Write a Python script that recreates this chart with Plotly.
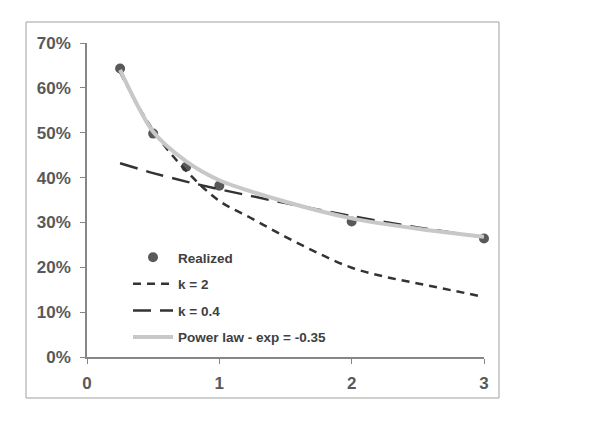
import plotly.graph_objects as go

# Data
x_realized = [0.25, 0.5, 0.75, 1, 2, 3]
y_realized = [0.643, 0.498, 0.424, 0.382, 0.302, 0.264]

x_k2 = [0.25, 0.5, 0.75, 1, 1.25, 1.5, 1.75, 2, 2.25, 2.5, 2.75, 3]
y_k2 = [0.635, 0.505, 0.415, 0.348, 0.308, 0.268, 0.231, 0.199, 0.179, 0.164, 0.149, 0.134]

x_k04 = [0.25, 0.5, 0.75, 1, 1.5, 2, 2.5, 3]
y_k04 = [0.432, 0.410, 0.391, 0.374, 0.343, 0.314, 0.289, 0.267]

x_pow = [0.25, 0.5, 0.75, 1, 1.5, 2, 2.5, 3]
y_pow = [0.640, 0.502, 0.436, 0.394, 0.346, 0.309, 0.286, 0.268]

x_ticks = [0, 1, 2, 3]
y_ticks = [0, 0.1, 0.2, 0.3, 0.4, 0.5, 0.6, 0.7]
y_tick_labels = ["0%", "10%", "20%", "30%", "40%", "50%", "60%", "70%"]

FONT = "Liberation Sans"
TXT = "#404040"

fig = go.Figure()
fig.add_trace(go.Scatter(x=x_realized, y=y_realized, mode="markers", name="Realized",
                         marker=dict(size=10, color="#595959"), legendgroup="a", cliponaxis=False))
fig.add_trace(go.Scatter(x=x_k2, y=y_k2, mode="lines", name="k = 2",
                         line=dict(color="#333333", width=2.5, dash="8px,6px", shape="spline", smoothing=1.0),
                         legendgroup="b"))
fig.add_trace(go.Scatter(x=x_k04, y=y_k04, mode="lines", name="k = 0.4",
                         line=dict(color="#333333", width=2.5, dash="18px,9px", shape="spline", smoothing=0.6),
                         legendgroup="c"))
fig.add_trace(go.Scatter(x=x_pow, y=y_pow, mode="lines", name="Power law - exp = -0.35",
                         line=dict(color="#C8C8C8", width=4, shape="spline", smoothing=0.8),
                         legendgroup="d"))

W, H = 607, 422
L, R, T, B = 87, 123, 43, 65
pw, ph = W - L - R, H - T - B

def px_x(px):
    return (px - L) / pw

def px_y(py):
    return (H - B - py) / ph

fig.add_shape(type="rect", xref="paper", yref="paper",
              x0=px_x(26), x1=px_x(499), y0=px_y(398), y1=px_y(22),
              line=dict(color="#A0A0A0", width=1), layer="below")

fig.update_layout(
    width=W, height=H,
    margin=dict(l=L, r=R, t=T, b=B),
    plot_bgcolor="white", paper_bgcolor="white",
    font=dict(family=FONT, color=TXT),
    showlegend=True,
    legend=dict(x=px_x(128), y=px_y(242), xanchor="left", yanchor="top",
                bgcolor="rgba(0,0,0,0)", font=dict(size=13.5, color=TXT, family=FONT, weight="bold"),
                itemwidth=40, tracegroupgap=6, traceorder="grouped"),
    xaxis=dict(range=[0, 3], tickvals=x_ticks, showgrid=False, zeroline=False,
               showline=True, linecolor="#868686", linewidth=1.5,
               ticks="outside", ticklen=5, tickcolor="#868686", ticklabelstandoff=5,
               tickfont=dict(size=17, color="#595959", family=FONT, weight="bold")),
    yaxis=dict(range=[0, 0.7], tickvals=y_ticks, ticktext=y_tick_labels, showgrid=False,
               zeroline=False, showline=True, linecolor="#868686", linewidth=1.5,
               ticks="outside", ticklen=5, tickcolor="#868686", ticklabelstandoff=6,
               tickfont=dict(size=17, color="#595959", family=FONT, weight="bold")),
)

fig.write_html("out.html")
